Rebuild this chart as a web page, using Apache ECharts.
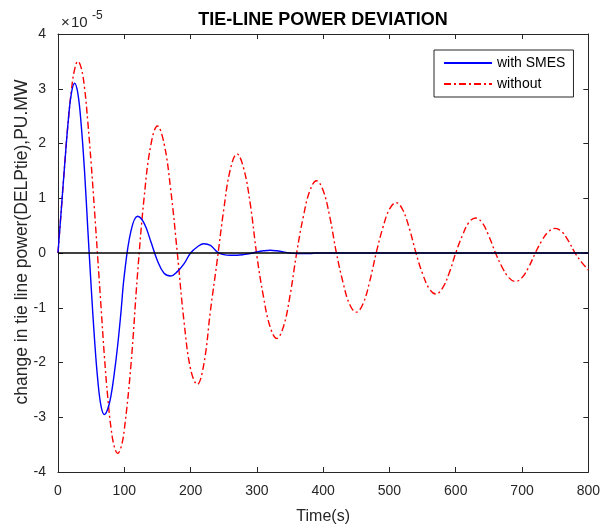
<!DOCTYPE html>
<html>
<head>
<meta charset="utf-8">
<script src="https://cdn.jsdelivr.net/npm/echarts@6/dist/echarts.min.js"></script>
<style>
	html, body { margin: 0; padding: 0; background: #fff; }
	#tieLineChart { width: 603px; height: 530px; }
</style>
</head>
<body>
<div id="tieLineChart"></div>
<script>
// values are in units of 1e-5 (shown as "x10^-5" above the y axis)
var timeS = [
	0, 5, 10, 15, 20, 25, 30, 35, 40, 45, 50, 55, 60, 65, 70, 75, 80, 85, 90, 95, 100,
	110, 120, 130, 140, 150, 160, 170, 180, 190, 200, 210, 220, 230, 240, 250, 260, 270, 280, 290, 300,
	310, 320, 330, 340, 350, 360, 370, 380, 390, 400, 410, 420, 430, 440, 450, 460, 470, 480, 490, 500,
	510, 520, 530, 540, 550, 560, 570, 580, 590, 600, 610, 620, 630, 640, 650, 660, 670, 680, 690, 700,
	710, 720, 730, 740, 750, 760, 770, 780, 790, 800
]
var withSmes = [
	0, 0.8, 1.6, 2.35, 2.9, 3.1, 2.91, 2.34, 1.5, 0.43, -0.61, -1.56, -2.32, -2.8, -2.95, -2.85, -2.6, -2.19, -1.69, -1.08, -0.41,
	0.4, 0.67, 0.54, 0.21, -0.14, -0.37, -0.42, -0.34, -0.2, 0, 0.11, 0.17, 0.14, 0.02, -0.03, -0.04, -0.04, -0.03, -0.01, 0.02,
	0.04, 0.05, 0.04, 0.02, 0, -0.01, -0.01, -0.01, 0, 0, 0, 0, 0, 0, 0, 0, 0, 0, 0, 0,
	0, 0, 0, 0, 0, 0, 0, 0, 0, 0, 0, 0, 0, 0, 0, 0, 0, 0, 0, 0,
	0, 0, 0, 0, 0, 0, 0, 0, 0, 0
]
var withoutSmes = [
	0, 0.8, 1.6, 2.35, 2.95, 3.35, 3.5, 3.38, 3.02, 2.39, 1.64, 0.79, -0.1, -1.0, -1.89, -2.63, -3.2, -3.54, -3.66, -3.55, -3.23,
	-2.05, -0.38, 1.02, 1.97, 2.32, 2.0, 1.16, 0, -1.24, -2.12, -2.4, -2.03, -1.05, -0.15, 0.79, 1.53, 1.81, 1.55, 0.9, -0.05,
	-0.8, -1.35, -1.56, -1.35, -0.78, 0, 0.66, 1.14, 1.32, 1.14, 0.66, 0, -0.54, -0.94, -1.08, -0.93, -0.53, 0, 0.46, 0.8,
	0.92, 0.79, 0.45, 0, -0.38, -0.65, -0.75, -0.64, -0.37, 0, 0.32, 0.56, 0.64, 0.55, 0.31, 0, -0.26, -0.45, -0.52, -0.45,
	-0.26, 0, 0.23, 0.39, 0.45, 0.39, 0.22, 0, -0.17, -0.31
]
var xTicks = [0, 100, 200, 300, 400, 500, 600, 700, 800]
var yTicks = [-4, -3, -2, -1, 0, 1, 2, 3, 4]

var FONT = "Liberation Sans, Arial, Helvetica, sans-serif"
var AXIS_COLOR = "#262626"

function pairs(values) {
	return timeS.map(function (t, i) { return [t, values[i]] })
}

// top / right axes only close the box (MATLAB "box on")
var boxAxis = {
	axisLine: { show: true, onZero: false, lineStyle: { color: AXIS_COLOR, width: 1 } },
	axisTick: { show: true, inside: true, length: 5, lineStyle: { color: AXIS_COLOR } },
	axisLabel: { show: false },
	splitLine: { show: false }
}

var option = {
	animation: false,
	backgroundColor: "#fff",
	title: {
		text: "TIE-LINE POWER DEVIATION",
		left: 318,
		textAlign: "center",
		top: 6,
		textStyle: { fontFamily: FONT, fontSize: 18, fontWeight: "bold", color: "#000" }
	},
	graphic: [
		{ type: "text", left: 61, top: 15, style: { text: "\u00d7\u200a10", font: "15px " + FONT, fill: AXIS_COLOR } },
		{ type: "text", left: 92, top: 10, style: { text: "-5", font: "12px " + FONT, fill: AXIS_COLOR } },
		{
			type: "text",
			x: 22,
			y: 242,
			rotation: Math.PI / 2,
			style: {
				text: "change in tie line power(DELPtie),PU.MW",
				font: "17.5px " + FONT,
				fill: AXIS_COLOR,
				align: "center",
				verticalAlign: "middle"
			}
		}
	],
	legend: {
		orient: "vertical",
		left: 434,
		top: 50,
		padding: [6, 8, 6, 9],
		itemGap: 7,
		itemWidth: 48,
		itemHeight: 14,
		backgroundColor: "#fff",
		borderColor: AXIS_COLOR,
		borderWidth: 1,
		itemStyle: { opacity: 0 },
		textStyle: { fontFamily: FONT, fontSize: 14, color: "#000" },
		data: ["with SMES", "without"]
	},
	grid: { left: 58, right: 12, top: 34, bottom: 57 },
	xAxis: [
		{
			type: "value",
			min: xTicks[0],
			max: xTicks[xTicks.length - 1],
			interval: 100,
			name: "Time(s)",
			nameLocation: "middle",
			nameGap: 37,
			nameTextStyle: { fontFamily: FONT, fontSize: 16, color: AXIS_COLOR },
			axisLine: { onZero: false, lineStyle: { color: AXIS_COLOR, width: 1 } },
			axisTick: { inside: true, length: 5, lineStyle: { color: AXIS_COLOR } },
			axisLabel: { fontFamily: FONT, fontSize: 14, color: AXIS_COLOR, margin: 12 },
			splitLine: { show: false }
		},
		Object.assign({ type: "value", position: "top", min: 0, max: 800, interval: 100 }, boxAxis)
	],
	yAxis: [
		{
			type: "value",
			min: yTicks[0],
			max: yTicks[yTicks.length - 1],
			interval: 1,
			axisLine: { show: true, onZero: false, lineStyle: { color: AXIS_COLOR, width: 1 } },
			axisTick: { show: true, inside: true, length: 5, lineStyle: { color: AXIS_COLOR } },
			axisLabel: { fontFamily: FONT, fontSize: 14, color: AXIS_COLOR, margin: 12 },
			splitLine: { show: false }
		},
		Object.assign({ type: "value", position: "right", min: -4, max: 4, interval: 1 }, boxAxis)
	],
	series: [
		{
			name: "without",
			type: "line",
			data: pairs(withoutSmes),
			smooth: 0.4,
			symbol: "none",
			color: "#ff0000",
			lineStyle: { color: "#ff0000", width: 1.4, type: [7, 3, 2, 3] }
		},
		{
			name: "with SMES",
			type: "line",
			data: pairs(withSmes),
			smooth: 0.4,
			symbol: "none",
			color: "#0000ff",
			lineStyle: { color: "#0000ff", width: 1.4 },
			markLine: {
				silent: true,
				symbol: "none",
				label: { show: false },
				lineStyle: { color: "#000", width: 1.5, type: "solid" },
				data: [{ yAxis: 0 }]
			}
		}
	]
}

var myChart = echarts.init(document.getElementById("tieLineChart"))
myChart.setOption(option)
</script>
</body>
</html>
